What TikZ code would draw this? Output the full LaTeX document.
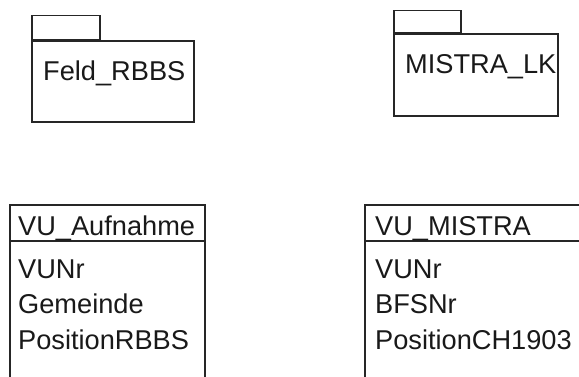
\documentclass[tikz,border=0pt]{standalone}
\usepackage{fontspec}
\setmainfont{Liberation Sans}
\begin{document}
\begin{tikzpicture}[x=1pt,y=-1pt,
  ln/.style={draw=black!85,line width=1.5pt},
  pkgbody/.style={ln,rectangle,inner sep=0pt,anchor=north west},
  pkgtab/.style={ln,rectangle,inner sep=0pt,anchor=south west},
  lbl/.style={anchor=base west,inner sep=0pt,font=\fontsize{27.2}{30}\selectfont,text=black!90}]
\useasboundingbox (0,0) rectangle (579,376);
\clip (0,0) rectangle (579,376);
% Package Feld_RBBS
\node[pkgbody,minimum width=162pt,minimum height=81pt] (feld) at (31,40) {};
\node[pkgtab,minimum width=68pt,minimum height=24pt] (feldtab) at (feld.north west) {};
\node[lbl] (feldlbl) at (43,80) {Feld\_RBBS};
% Package MISTRA_LK
\node[pkgbody,minimum width=164pt,minimum height=82pt] (mistra) at (393,33) {};
\node[pkgtab,minimum width=67pt,minimum height=22pt] (mistratab) at (mistra.north west) {};
\node[lbl] (mistralbl) at (405,73) {MISTRA\_LK};
% Class VU_Aufnahme
\node[pkgbody,minimum width=195pt,minimum height=200pt] (aufn) at (9,204) {};
\coordinate (aufnL) at (9,241);
\coordinate (aufnR) at (204,241);
\draw[ln] (aufnL) -- (aufnR);
\node[lbl] (aufnT) at (18,235) {VU\_Aufnahme};
\node[lbl] (a1) at (18,278) {VUNr};
\node[lbl] (a2) at (18,313.5) {Gemeinde};
\node[lbl] (a3) at (18,349) {PositionRBBS};
% Class VU_MISTRA
\node[pkgbody,minimum width=260pt,minimum height=200pt] (vum) at (364,204) {};
\coordinate (vumL) at (364,241);
\coordinate (vumR) at (624,241);
\draw[ln] (vumL) -- (vumR);
\node[lbl] (vumT) at (375,235) {VU\_MISTRA};
\node[lbl] (b1) at (375,278) {VUNr};
\node[lbl] (b2) at (375,313.5) {BFSNr};
\node[lbl] (b3) at (375,349) {PositionCH1903};
\end{tikzpicture}
\end{document}
